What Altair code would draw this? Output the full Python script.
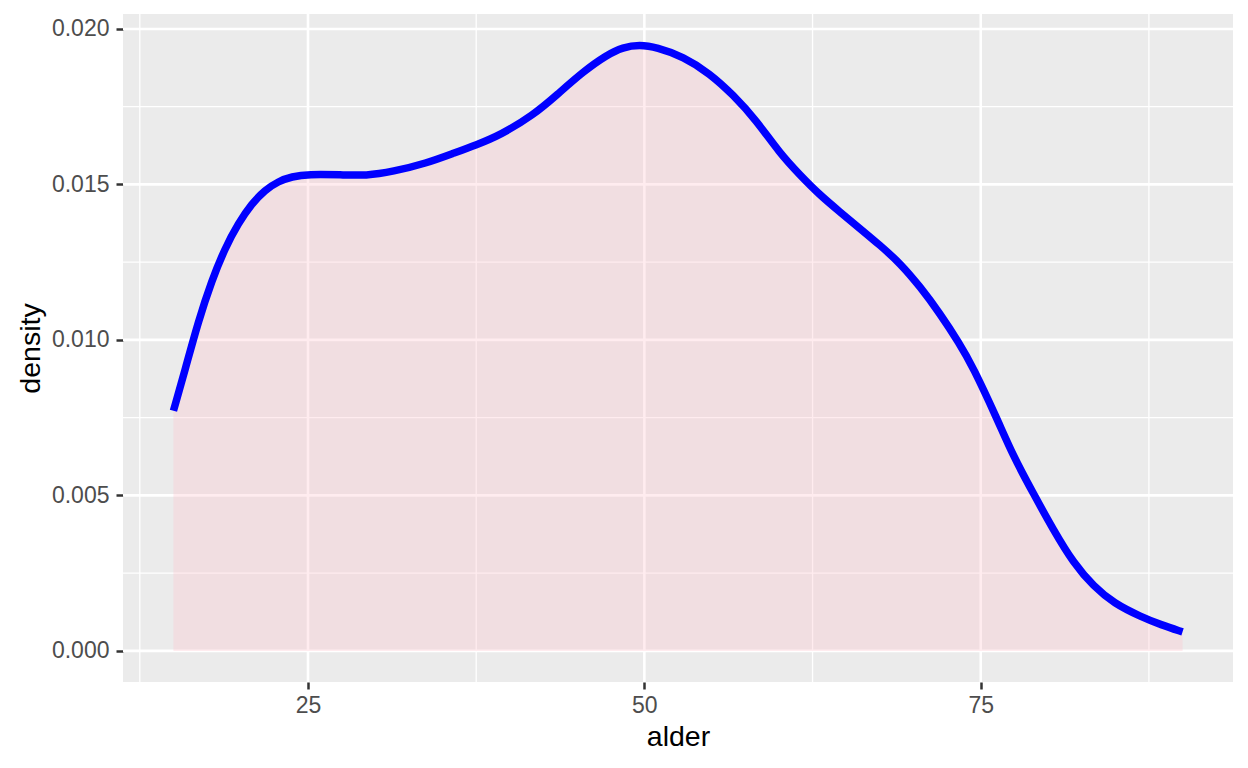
import altair as alt
import pandas as pd

# density curve
alder = [15.0, 15.86, 16.85, 17.84, 18.83, 19.82, 20.82, 21.8, 22.8, 23.8, 25.0, 27.5,
         29.3, 31.3, 33.8, 35.8, 37.5, 39.3, 41.75, 43.5, 45.46, 47.2, 48.4, 49.65, 50.9,
         52.9, 54.85, 56.6, 58.3, 60.07, 61.55, 63.04, 64.5, 66.0, 67.5, 69.0, 70.5,
         71.95, 73.4, 74.4, 76.2, 77.4, 78.9, 80.4, 81.9, 83.4, 84.9, 86.9, 88.4, 90.0]
density = [0.00772, 0.00903, 0.01060, 0.01190, 0.01295, 0.01375, 0.01438, 0.01482,
           0.01510, 0.01525, 0.01533, 0.01531, 0.01528, 0.01541, 0.01568, 0.01600,
           0.01627, 0.01659, 0.01723, 0.01788, 0.01863, 0.01916, 0.01941, 0.01949,
           0.01941, 0.01911, 0.01857, 0.01788, 0.01707, 0.01600, 0.01531, 0.01466,
           0.01413, 0.01359, 0.01305, 0.01247, 0.01171, 0.01086, 0.00990, 0.00915,
           0.00748, 0.00628, 0.00507, 0.00389, 0.00282, 0.00207, 0.00153, 0.00110,
           0.00084, 0.00061]

x_major = [25, 50, 75]
x_minor = [12.5, 37.5, 62.5, 87.5]
y_major = [0.000, 0.005, 0.010, 0.015, 0.020]
y_minor = [0.0025, 0.0075, 0.0125, 0.0175]

df = pd.DataFrame({"alder": alder, "density": density})

xs = alt.Scale(domain=[11.25, 93.75], nice=False, zero=False)
ys = alt.Scale(domain=[-0.001, 0.02048], nice=False, zero=False)

FONT = "Liberation Sans"

xaxis = alt.Axis(values=x_major, grid=False, domain=False, tickColor="#333333", tickSize=7,
                 tickWidth=2.5, labelColor="#4D4D4D", labelFontSize=23, labelFont=FONT,
                 labelPadding=5, title="alder", titleFont=FONT, titleFontSize=28.5,
                 titleFontWeight="normal", titleColor="#000000", titlePadding=5)
yaxis = alt.Axis(values=y_major, format=".3f", grid=False, domain=False, tickColor="#333333",
                 tickSize=7, tickWidth=2.5, labelColor="#4D4D4D", labelFontSize=23,
                 labelFont=FONT, labelPadding=7, title="density", titleFont=FONT,
                 titleFontSize=28.5, titleFontWeight="normal", titleColor="#000000",
                 titlePadding=6)

xminor_df = pd.DataFrame({"v": x_minor})
xmajor_df = pd.DataFrame({"v": x_major})
yminor_df = pd.DataFrame({"v": y_minor})
ymajor_df = pd.DataFrame({"v": y_major})

gx_minor = alt.Chart(xminor_df).mark_rule(color="white", strokeWidth=1.3).encode(
    x=alt.X("v:Q", scale=xs, axis=xaxis, title="alder"))
gx_major = alt.Chart(xmajor_df).mark_rule(color="white", strokeWidth=2.6).encode(
    x=alt.X("v:Q", scale=xs, axis=xaxis, title="alder"))
gy_minor = alt.Chart(yminor_df).mark_rule(color="white", strokeWidth=1.3).encode(
    y=alt.Y("v:Q", scale=ys, axis=yaxis, title="density"))
gy_major = alt.Chart(ymajor_df).mark_rule(color="white", strokeWidth=2.6).encode(
    y=alt.Y("v:Q", scale=ys, axis=yaxis, title="density"))

area = alt.Chart(df).mark_area(color="#FFC0CB", opacity=0.3, interpolate="basis").encode(
    x=alt.X("alder:Q", scale=xs, axis=xaxis, title="alder"),
    y=alt.Y("density:Q", scale=ys, axis=yaxis, title="density"),
    y2=alt.datum(0),
)
line = alt.Chart(df).mark_line(color="#0000FF", strokeWidth=7.5, interpolate="basis",
                               strokeCap="butt").encode(
    x=alt.X("alder:Q", scale=xs, axis=xaxis, title="alder"),
    y=alt.Y("density:Q", scale=ys, axis=yaxis, title="density"),
)

chart = alt.layer(gx_minor, gy_minor, gx_major, gy_major, area, line).properties(
    width=1110, height=668,
    background="white",
    autosize=alt.AutoSizeParams(type="none"),
    padding={"left": 115, "top": 6, "right": 7, "bottom": 78},
).configure_view(fill="#EBEBEB", stroke=None)

chart.save("out.html", embed_options={"renderer": "svg", "actions": False})
